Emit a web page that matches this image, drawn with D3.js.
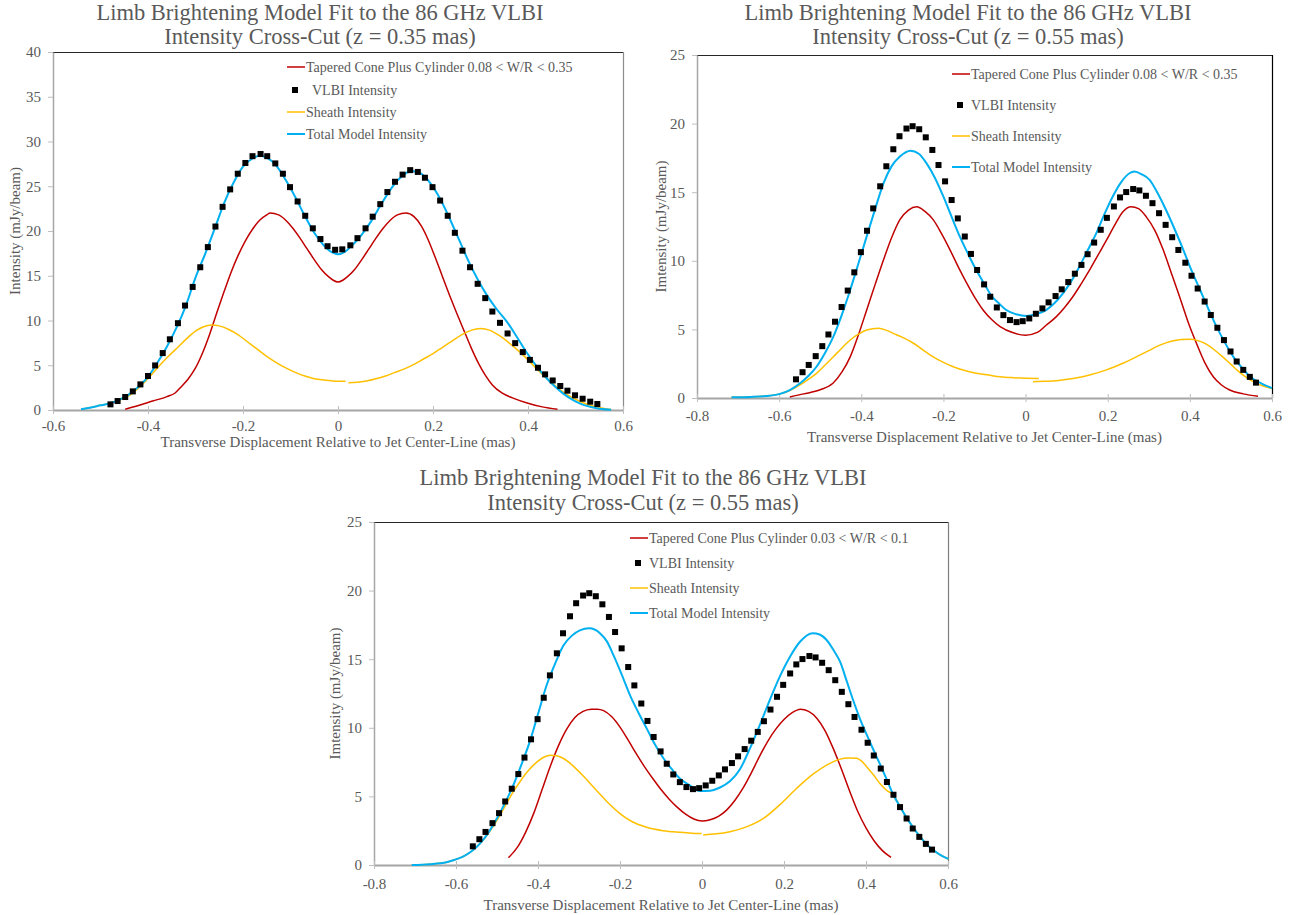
<!doctype html>
<html lang="en">
<head>
  <meta charset="utf-8">
  <title>Limb brightening model fits</title>
  <style>
    body { margin: 0; background: #fff; }
    svg { display: block; font-family: "Liberation Serif", "Times New Roman", serif; }
  </style>
</head>

<body>

  <script src="https://d3js.org/d3.v7.min.js" charset="utf-8"></script>
  <script>
// ---- axis ticks ----
var xTicksA = [-0.6, -0.4, -0.2, 0, 0.2, 0.4, 0.6];
var yTicksA = [0, 5, 10, 15, 20, 25, 30, 35, 40];
var xTicksB = [-0.8, -0.6, -0.4, -0.2, 0, 0.2, 0.4, 0.6];
var yTicksB = [0, 5, 10, 15, 20, 25];

// ---- z = 0.35 mas ----
var vlbi35 = [[-0.479,0.63],[-0.464,1.0],[-0.448,1.45],[-0.432,2.08],[-0.416,2.86],[-0.400,3.8],[-0.385,4.98],[-0.369,6.36],[-0.354,7.9],[-0.337,9.7],[-0.322,11.67],[-0.306,13.75],[-0.290,15.95],[-0.274,18.2],[-0.258,20.5],[-0.243,22.7],[-0.227,24.65],[-0.211,26.4],[-0.195,27.6],[-0.180,28.36],[-0.163,28.6],[-0.149,28.36],[-0.132,27.55],[-0.116,26.4],[-0.101,24.9],[-0.085,23.3],[-0.069,21.7],[-0.053,20.3],[-0.037,19.1],[-0.022,18.3],[-0.006,17.9],[0.009,17.95],[0.026,18.4],[0.041,19.2],[0.058,20.3],[0.073,21.6],[0.089,23.0],[0.104,24.35],[0.120,25.5],[0.136,26.3],[0.152,26.8],[0.168,26.6],[0.183,25.95],[0.199,24.9],[0.215,23.4],[0.231,21.7],[0.246,19.8],[0.262,17.8],[0.278,15.95],[0.294,14.1],[0.310,12.5],[0.325,11.0],[0.341,9.74],[0.357,8.55],[0.373,7.47],[0.389,6.47],[0.404,5.6],[0.421,4.72],[0.436,3.98],[0.452,3.3],[0.468,2.68],[0.483,2.16],[0.499,1.64],[0.515,1.26],[0.531,0.93],[0.546,0.67]];

var cone35 = [[-0.448,0.08],[-0.42,0.5],[-0.39,1.0],[-0.36,1.5],[-0.343,1.9],[-0.33,2.6],[-0.315,3.5],[-0.30,4.7],[-0.285,6.4],[-0.27,8.5],[-0.255,10.9],[-0.24,13.2],[-0.225,15.4],[-0.21,17.3],[-0.195,18.9],[-0.18,20.2],[-0.165,21.2],[-0.15,21.8],[-0.143,22.0],[-0.125,21.8],[-0.11,21.2],[-0.095,20.3],[-0.08,19.2],[-0.065,18.0],[-0.05,16.8],[-0.035,15.7],[-0.02,14.9],[-0.01,14.5],[0.0,14.3],[0.01,14.5],[0.02,14.9],[0.035,15.7],[0.05,16.8],[0.065,18.0],[0.08,19.2],[0.095,20.3],[0.11,21.2],[0.125,21.8],[0.143,22.0],[0.16,21.6],[0.175,20.6],[0.19,19.0],[0.205,17.0],[0.22,14.9],[0.235,12.8],[0.25,10.8],[0.265,8.9],[0.28,7.0],[0.295,5.3],[0.31,3.9],[0.325,2.8],[0.345,1.9],[0.37,1.3],[0.40,0.75],[0.43,0.35],[0.462,0.08]];

var sheathLeft35 = [[-0.541,0.07],[-0.52,0.28],[-0.50,0.52],[-0.48,0.75],[-0.46,1.1],[-0.44,1.6],[-0.413,2.8],[-0.395,3.8],[-0.378,4.84],[-0.357,6.0],[-0.336,7.07],[-0.318,8.0],[-0.30,8.8],[-0.283,9.3],[-0.266,9.5],[-0.25,9.4],[-0.23,9.0],[-0.21,8.4],[-0.19,7.6],[-0.17,6.8],[-0.15,6.0],[-0.13,5.3],[-0.11,4.7],[-0.09,4.2],[-0.07,3.8],[-0.05,3.5],[-0.03,3.35],[-0.01,3.25],[0.016,3.2]];
var sheathRight35 = [[0.022,3.05],[0.04,3.1],[0.06,3.25],[0.08,3.5],[0.10,3.8],[0.12,4.2],[0.14,4.6],[0.16,5.1],[0.18,5.7],[0.20,6.3],[0.22,7.0],[0.24,7.7],[0.26,8.4],[0.28,8.9],[0.30,9.1],[0.32,8.9],[0.34,8.3],[0.36,7.5],[0.38,6.6],[0.40,5.6],[0.42,4.5],[0.44,3.5],[0.46,2.6],[0.48,1.8],[0.50,1.2],[0.52,0.72],[0.54,0.38],[0.56,0.16],[0.575,0.06]];

var total35 = [[-0.541,0.07],[-0.52,0.28],[-0.50,0.52],[-0.48,0.75],[-0.46,1.15],[-0.44,1.75],[-0.42,2.6],[-0.40,3.7],[-0.38,5.3],[-0.36,7.1],[-0.34,9.2],[-0.32,11.7],[-0.30,14.8],[-0.28,17.4],[-0.26,20.2],[-0.24,23.1],[-0.22,25.4],[-0.20,27.2],[-0.18,28.1],[-0.165,28.4],[-0.15,28.2],[-0.13,27.3],[-0.11,25.7],[-0.09,23.8],[-0.07,21.7],[-0.05,19.8],[-0.03,18.4],[-0.012,17.6],[0.0,17.4],[0.015,17.7],[0.03,18.4],[0.05,19.6],[0.07,21.1],[0.09,22.9],[0.11,24.6],[0.13,25.9],[0.155,26.7],[0.175,26.4],[0.195,25.3],[0.215,23.6],[0.235,21.4],[0.255,19.0],[0.275,16.6],[0.295,14.5],[0.315,12.7],[0.335,11.2],[0.355,9.9],[0.375,8.3],[0.395,6.6],[0.415,5.1],[0.435,3.8],[0.455,2.7],[0.475,1.8],[0.495,1.1],[0.515,0.6],[0.535,0.3],[0.555,0.12],[0.575,0.04]];

// ---- z = 0.55 mas (same VLBI cut in both fits) ----
var vlbi55 = [[-0.559,1.36],[-0.543,1.88],[-0.528,2.41],[-0.511,3.05],[-0.495,3.78],[-0.480,4.63],[-0.464,5.56],[-0.448,6.63],[-0.433,7.83],[-0.417,9.16],[-0.401,10.63],[-0.386,12.19],[-0.371,13.82],[-0.354,15.43],[-0.339,16.89],[-0.322,18.13],[-0.307,19.08],[-0.290,19.64],[-0.275,19.81],[-0.259,19.59],[-0.243,19.0],[-0.227,18.08],[-0.212,16.98],[-0.196,15.79],[-0.180,14.43],[-0.165,13.09],[-0.148,11.77],[-0.133,10.5],[-0.118,9.33],[-0.101,8.28],[-0.086,7.38],[-0.070,6.6],[-0.054,6.04],[-0.038,5.68],[-0.022,5.53],[-0.007,5.6],[0.009,5.8],[0.025,6.14],[0.041,6.53],[0.056,6.97],[0.073,7.43],[0.088,7.92],[0.104,8.45],[0.120,9.06],[0.136,9.7],[0.151,10.48],[0.167,11.33],[0.183,12.26],[0.198,13.13],[0.215,13.96],[0.230,14.62],[0.245,15.01],[0.262,15.23],[0.277,15.13],[0.293,14.74],[0.309,14.2],[0.325,13.47],[0.341,12.62],[0.357,11.72],[0.372,10.79],[0.389,9.86],[0.404,8.91],[0.419,7.98],[0.436,7.03],[0.451,6.05],[0.467,5.12],[0.483,4.22],[0.499,3.39],[0.514,2.66],[0.530,2.05],[0.546,1.54],[0.561,1.12]];

// fit with 0.08 < W/R < 0.35
var coneWide = [[-0.574,0.08],[-0.54,0.3],[-0.50,0.6],[-0.469,1.07],[-0.447,1.9],[-0.427,3.0],[-0.407,4.6],[-0.387,6.4],[-0.366,8.3],[-0.346,10.06],[-0.326,11.7],[-0.306,13.0],[-0.285,13.7],[-0.265,13.94],[-0.245,13.6],[-0.225,13.0],[-0.205,12.0],[-0.184,10.8],[-0.163,9.5],[-0.143,8.36],[-0.123,7.3],[-0.103,6.4],[-0.082,5.7],[-0.062,5.2],[-0.03,4.75],[0,4.58],[0.03,4.8],[0.05,5.3],[0.075,5.93],[0.095,6.6],[0.115,7.38],[0.135,8.3],[0.156,9.33],[0.176,10.4],[0.197,11.5],[0.217,12.6],[0.237,13.58],[0.257,13.94],[0.275,13.8],[0.294,13.2],[0.315,12.2],[0.335,10.8],[0.355,9.1],[0.375,7.38],[0.395,5.6],[0.416,3.99],[0.436,2.6],[0.457,1.55],[0.477,0.95],[0.497,0.58],[0.53,0.3],[0.566,0.12]];

var sheathLeftWide = [[-0.716,0.05],[-0.67,0.08],[-0.63,0.15],[-0.598,0.3],[-0.574,0.55],[-0.549,0.95],[-0.529,1.35],[-0.509,1.8],[-0.488,2.4],[-0.468,3.0],[-0.447,3.65],[-0.427,4.23],[-0.407,4.65],[-0.387,4.96],[-0.358,5.08],[-0.34,4.95],[-0.322,4.71],[-0.298,4.4],[-0.273,3.99],[-0.25,3.5],[-0.225,3.0],[-0.2,2.6],[-0.176,2.28],[-0.148,2.0],[-0.12,1.8],[-0.09,1.67],[-0.062,1.55],[-0.03,1.48],[0.0,1.44],[0.032,1.43]];
var sheathRightWide = [[0.018,1.19],[0.045,1.22],[0.075,1.26],[0.115,1.42],[0.156,1.68],[0.197,2.05],[0.237,2.53],[0.278,3.12],[0.30,3.45],[0.32,3.76],[0.34,4.0],[0.36,4.17],[0.38,4.26],[0.40,4.28],[0.42,4.18],[0.44,3.92],[0.46,3.5],[0.48,3.0],[0.50,2.45],[0.52,1.9],[0.54,1.45],[0.56,1.1],[0.58,0.86],[0.60,0.7]];

var totalWide = [[-0.716,0.05],[-0.67,0.08],[-0.63,0.15],[-0.598,0.3],[-0.574,0.58],[-0.549,1.07],[-0.529,1.6],[-0.509,2.28],[-0.488,3.3],[-0.468,4.47],[-0.447,6.1],[-0.427,7.87],[-0.407,9.8],[-0.387,11.76],[-0.366,13.8],[-0.346,15.65],[-0.326,16.9],[-0.306,17.6],[-0.28,18.02],[-0.26,17.8],[-0.241,17.1],[-0.22,16.0],[-0.2,14.67],[-0.18,13.2],[-0.16,11.76],[-0.14,10.5],[-0.12,9.33],[-0.1,8.3],[-0.083,7.45],[-0.065,6.9],[-0.047,6.41],[-0.023,6.1],[0.002,5.97],[0.025,6.1],[0.05,6.41],[0.07,6.9],[0.091,7.63],[0.111,8.5],[0.131,9.57],[0.151,10.75],[0.172,12.0],[0.192,13.4],[0.212,14.67],[0.232,15.7],[0.253,16.38],[0.265,16.5],[0.283,16.3],[0.302,15.9],[0.322,14.9],[0.342,13.7],[0.363,12.3],[0.384,10.8],[0.404,9.3],[0.425,7.87],[0.445,6.5],[0.465,5.2],[0.486,4.0],[0.506,3.0],[0.527,2.2],[0.547,1.55],[0.575,1.05],[0.6,0.72]];

// fit with 0.03 < W/R < 0.1
var coneNarrow = [[-0.472,0.53],[-0.45,1.3],[-0.43,2.4],[-0.41,3.8],[-0.39,5.5],[-0.37,7.2],[-0.35,8.7],[-0.33,9.9],[-0.31,10.75],[-0.29,11.2],[-0.27,11.35],[-0.255,11.36],[-0.24,11.25],[-0.22,10.8],[-0.20,10.05],[-0.18,9.1],[-0.16,8.1],[-0.14,7.15],[-0.12,6.3],[-0.10,5.5],[-0.08,4.8],[-0.06,4.2],[-0.04,3.7],[-0.02,3.35],[0.0,3.2],[0.02,3.3],[0.04,3.55],[0.06,4.0],[0.08,4.7],[0.10,5.6],[0.12,6.7],[0.14,7.9],[0.16,9.0],[0.18,9.9],[0.20,10.6],[0.22,11.1],[0.24,11.35],[0.26,11.2],[0.28,10.7],[0.30,9.8],[0.32,8.5],[0.34,7.0],[0.36,5.4],[0.38,3.9],[0.40,2.7],[0.42,1.75],[0.44,1.05],[0.461,0.55]];

var sheathLeftNarrow = [[-0.708,0.0],[-0.665,0.06],[-0.623,0.2],[-0.603,0.38],[-0.583,0.61],[-0.562,1.0],[-0.541,1.58],[-0.52,2.35],[-0.5,3.25],[-0.48,4.3],[-0.462,5.25],[-0.444,6.07],[-0.423,6.9],[-0.403,7.5],[-0.385,7.87],[-0.37,8.0],[-0.355,7.97],[-0.34,7.8],[-0.325,7.5],[-0.31,7.1],[-0.29,6.5],[-0.27,5.85],[-0.25,5.2],[-0.228,4.5],[-0.2,3.75],[-0.17,3.15],[-0.135,2.75],[-0.095,2.5],[-0.054,2.38],[-0.025,2.32],[-0.001,2.3]];
var sheathRightNarrow = [[0.003,2.19],[0.035,2.27],[0.068,2.43],[0.11,2.8],[0.15,3.4],[0.19,4.4],[0.231,5.59],[0.27,6.6],[0.312,7.41],[0.335,7.7],[0.357,7.8],[0.377,7.78],[0.39,7.55],[0.402,7.15],[0.42,6.5],[0.435,5.9],[0.45,5.45],[0.467,5.1],[0.484,4.2],[0.5,3.4],[0.516,2.7],[0.532,2.06],[0.548,1.5],[0.564,1.09],[0.582,0.72],[0.601,0.44]];

var totalNarrow = [[-0.708,0.0],[-0.665,0.06],[-0.623,0.2],[-0.603,0.38],[-0.583,0.61],[-0.562,1.0],[-0.541,1.58],[-0.52,2.4],[-0.5,3.4],[-0.48,4.55],[-0.46,5.83],[-0.44,7.35],[-0.42,8.99],[-0.4,11.0],[-0.379,13.1],[-0.358,14.7],[-0.338,16.0],[-0.318,16.7],[-0.298,17.1],[-0.275,17.25],[-0.249,16.9],[-0.232,16.3],[-0.216,15.3],[-0.196,13.9],[-0.176,12.4],[-0.155,11.1],[-0.135,9.96],[-0.115,8.8],[-0.094,7.78],[-0.074,7.0],[-0.054,6.3],[-0.03,5.8],[-0.005,5.39],[0.02,5.42],[0.044,5.65],[0.068,6.1],[0.093,7.0],[0.117,8.5],[0.141,10.2],[0.165,12.0],[0.19,13.75],[0.215,15.2],[0.239,16.27],[0.27,16.9],[0.287,16.8],[0.304,16.4],[0.32,15.7],[0.337,14.8],[0.353,13.4],[0.37,11.9],[0.386,10.6],[0.402,9.48],[0.418,8.4],[0.435,7.29],[0.451,6.2],[0.467,5.1],[0.484,4.2],[0.5,3.4],[0.516,2.7],[0.532,2.06],[0.548,1.5],[0.564,1.09],[0.582,0.72],[0.601,0.44]];

(function() {

var RED = '#c00000', GOLD = '#ffc000', BLUE = '#00b0f0', GREY = '#595959';

var svg = d3.select('body').append('svg')
    .attr('width', 1299)
    .attr('height', 915);

var drawChart = function(c) {
  var x = d3.scaleLinear().domain(c.xDomain).range([c.left, c.right]);
  var y = d3.scaleLinear().domain(c.yDomain).range([c.bottom, c.top]);
  var g = svg.append('g');

  // title, two lines
  var title = g.append('text')
      .attr('text-anchor', 'middle')
      .attr('font-size', 22.5)
      .attr('fill', GREY);
  c.title.forEach(function(t, i) {
    title.append('tspan').attr('x', c.titleX).attr('y', c.titleY[i]).attr('dy', '0.35em').text(t);
  });

  // plot border (top + right)
  g.append('line')
      .attr('x1', c.left).attr('x2', c.right)
      .attr('y1', c.top + 0.5).attr('y2', c.top + 0.5)
      .attr('stroke', '#262626').attr('stroke-width', 1.2);
  g.append('line')
      .attr('x1', c.right + 0.5).attr('x2', c.right + 0.5)
      .attr('y1', c.top).attr('y2', c.bottom)
      .attr('stroke', c.rightColor).attr('stroke-width', 1.2);

  // y axis
  var ya = g.append('g')
      .attr('transform', 'translate(' + c.left + ',0)')
      .call(d3.axisLeft(y).tickValues(c.yTicks).tickSizeInner(5).tickSizeOuter(0)
        .tickFormat(function(d) { return String(d); }));
  ya.attr('font-family', null).attr('font-size', 15);
  ya.select('.domain').attr('stroke', '#a6a6a6').attr('stroke-width', 1.5);
  ya.selectAll('.tick line').attr('stroke', '#bfbfbf');
  ya.selectAll('.tick text').attr('x', -12).attr('fill', GREY);

  // x axis, ticks cross the line
  var xa = g.append('g')
      .attr('transform', 'translate(0,' + c.bottom + ')')
      .call(d3.axisBottom(x).tickValues(c.xTicks).tickSizeOuter(0)
        .tickFormat(function(d) { return String(d); }));
  xa.attr('font-family', null).attr('font-size', 15);
  xa.select('.domain').attr('stroke', '#a6a6a6').attr('stroke-width', 2);
  xa.selectAll('.tick line').attr('y1', -4).attr('y2', 4).attr('stroke', '#bfbfbf');
  xa.selectAll('.tick text').attr('y', c.xLabelY - c.bottom).attr('dy', '0.35em').attr('fill', GREY);

  // axis titles
  g.append('text')
      .attr('x', (c.left + c.right) / 2).attr('y', c.xTitleY).attr('dy', '0.35em')
      .attr('text-anchor', 'middle').attr('font-size', 15).attr('fill', GREY)
      .text('Transverse Displacement Relative to Jet Center-Line (mas)');
  g.append('text')
      .attr('transform', 'translate(' + c.yTitleX + ',' + (c.top + c.bottom) / 2 + ') rotate(-90)')
      .attr('dy', '0.35em')
      .attr('text-anchor', 'middle').attr('font-size', 15).attr('fill', GREY)
      .text(c.yTitle);

  // series
  var line = d3.line()
      .x(function(d) { return x(d[0]); })
      .y(function(d) { return y(d[1]); })
      .curve(d3.curveMonotoneX);

  var curves = [
    {data: c.cone, color: RED, width: 1.5},
    {data: c.sheathLeft, color: GOLD, width: 1.5},
    {data: c.sheathRight, color: GOLD, width: 1.5},
    {data: c.total, color: BLUE, width: 2}
  ];
  g.selectAll('path.curve').data(curves).enter().append('path')
      .attr('class', 'curve')
      .attr('fill', 'none')
      .attr('stroke', function(d) { return d.color; })
      .attr('stroke-width', function(d) { return d.width; })
      .attr('d', function(d) { return line(d.data); });

  g.selectAll('rect.pt').data(c.points).enter().append('rect')
      .attr('class', 'pt')
      .attr('x', function(d) { return x(d[0]) - 3; })
      .attr('y', function(d) { return y(d[1]) - 3; })
      .attr('width', 6).attr('height', 6)
      .attr('fill', '#000');

  // legend
  var lg = c.legend;
  var items = [
    {label: c.coneLabel, color: RED},
    {label: 'VLBI Intensity', marker: true},
    {label: 'Sheath Intensity', color: GOLD},
    {label: 'Total Model Intensity', color: BLUE}
  ];
  items.forEach(function(it, i) {
    var yy = lg.ys[i];
    if (it.marker) {
      g.append('rect')
          .attr('x', lg.x + 8 - 3).attr('y', yy - 3)
          .attr('width', 6).attr('height', 6).attr('fill', '#000');
    } else {
      g.append('line')
          .attr('x1', lg.x).attr('x2', lg.x + 18)
          .attr('y1', yy).attr('y2', yy)
          .attr('stroke', it.color).attr('stroke-width', it.color === BLUE ? 2 : 1.5);
    }
    g.append('text')
        .attr('x', lg.x + 19 + (it.marker ? lg.vlbiDx : 0)).attr('y', yy).attr('dy', '0.35em')
        .attr('font-size', 14).attr('fill', GREY)
        .text(it.label);
  });
};

drawChart({
  left: 53, right: 623, top: 52, bottom: 410,
  xDomain: [-0.6, 0.6], yDomain: [0, 40], xTicks: xTicksA, yTicks: yTicksA,
  title: ['Limb Brightening Model Fit to the 86 GHz VLBI', 'Intensity Cross-Cut (z = 0.35 mas)'],
  titleX: 320, titleY: [12, 36],
  xLabelY: 426, xTitleY: 442, yTitleX: 15, yTitle: 'Intensity (mJy/beam)',
  rightColor: '#8c8c8c',
  cone: cone35, sheathLeft: sheathLeft35, sheathRight: sheathRight35, total: total35, points: vlbi35,
  coneLabel: 'Tapered Cone Plus Cylinder 0.08 < W/R < 0.35',
  legend: {x: 287, ys: [67, 90, 112, 134], vlbiDx: 6}
});

drawChart({
  left: 697, right: 1272, top: 55, bottom: 398,
  xDomain: [-0.8, 0.6], yDomain: [0, 25], xTicks: xTicksB, yTicks: yTicksB,
  title: ['Limb Brightening Model Fit to the 86 GHz VLBI', 'Intensity Cross-Cut (z = 0.55 mas)'],
  titleX: 968, titleY: [12, 36],
  xLabelY: 416, xTitleY: 437, yTitleX: 661, yTitle: 'Imtensity (mJy/beam)',
  rightColor: '#000',
  cone: coneWide, sheathLeft: sheathLeftWide, sheathRight: sheathRightWide, total: totalWide, points: vlbi55,
  coneLabel: 'Tapered Cone Plus Cylinder 0.08 < W/R < 0.35',
  legend: {x: 952, ys: [74, 105, 136, 167], vlbiDx: 0}
});

drawChart({
  left: 374, right: 948, top: 522, bottom: 865,
  xDomain: [-0.8, 0.6], yDomain: [0, 25], xTicks: xTicksB, yTicks: yTicksB,
  title: ['Limb Brightening Model Fit to the 86 GHz VLBI', 'Intensity Cross-Cut (z = 0.55 mas)'],
  titleX: 643, titleY: [477, 502],
  xLabelY: 884, xTitleY: 905, yTitleX: 335, yTitle: 'Imtensity (mJy/beam)',
  rightColor: '#7f7f7f',
  cone: coneNarrow, sheathLeft: sheathLeftNarrow, sheathRight: sheathRightNarrow, total: totalNarrow, points: vlbi55,
  coneLabel: 'Tapered Cone Plus Cylinder 0.03 < W/R < 0.1',
  legend: {x: 630, ys: [538, 563, 588, 613], vlbiDx: 0}
});

})();
  </script>
</body>
</html>
